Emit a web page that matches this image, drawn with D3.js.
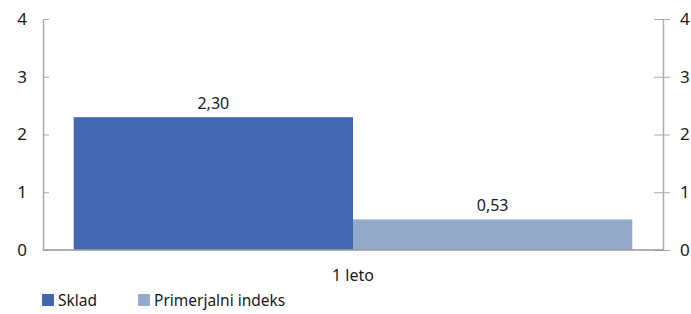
<!DOCTYPE html>
<html>
<head>
<meta charset="utf-8">
<script src="https://cdn.jsdelivr.net/npm/d3@7"></script>
<style>
  body { margin: 0; background: #fff; }
  text { font-family: "Noto Sans", sans-serif; fill: #1a1a1a; }
</style>
</head>
<body>
<svg id="chart" width="691" height="314"></svg>
<script>
'use strict';

const categories = ["1 leto"];
const seriesNames = ["Sklad", "Primerjalni indeks"];
const skladValues = [2.30];
const indeksValues = [0.53];
const yTicks = [0, 1, 2, 3, 4];

const COLORS = ["#4368b1", "#94aacb"];
const AXIS_COLOR = "#aaaaaa";
const fmt = (v) => v.toFixed(2).replace(".", ",");

const svg = d3.select("#chart");
const plot = { left: 43, right: 663, top: 19, bottom: 250 };

const x = d3.scaleBand()
    .domain(categories)
    .range([plot.left, plot.right])
    .paddingOuter(0.055)
    .paddingInner(0);

const xSeries = d3.scaleBand()
    .domain(seriesNames)
    .range([0, x.bandwidth()])
    .padding(0);

const y = d3.scaleLinear()
    .domain([0, 4])
    .range([plot.bottom, plot.top]);

// left axis
const leftAxis = svg.append("g")
    .attr("transform", `translate(${plot.left},0)`)
    .call(d3.axisLeft(y).tickValues(yTicks).tickFormat(d3.format("d"))
        .tickSize(6).tickSizeOuter(0).tickPadding(10));
leftAxis.selectAll(".tick line").attr("x2", 6);

// right axis
const rightAxis = svg.append("g")
    .attr("transform", `translate(${plot.right},0)`)
    .call(d3.axisRight(y).tickValues(yTicks).tickFormat(d3.format("d"))
        .tickSize(7).tickSizeOuter(0).tickPadding(10));
rightAxis.selectAll(".tick line").attr("x1", -9);

[leftAxis, rightAxis].forEach((g) => {
    g.select(".domain").attr("stroke", AXIS_COLOR).attr("stroke-width", 1.5);
    g.selectAll(".tick line").attr("stroke", AXIS_COLOR);
    g.selectAll(".tick text")
        .attr("font-size", 17)
        .style("font-family", '"Noto Sans", sans-serif')
        .attr("fill", "#1a1a1a");
});

// bars
const rows = categories.map((c, i) => ({
    category: c,
    values: [skladValues[i], indeksValues[i]]
}));

const groups = svg.selectAll("g.cat")
    .data(rows)
    .join("g")
    .classed("cat", true)
    .attr("transform", (d) => `translate(${x(d.category)},0)`);

groups.selectAll("rect")
    .data((d) => d.values.map((v, j) => ({ name: seriesNames[j], value: v, idx: j })))
    .join("rect")
    .attr("x", (d) => xSeries(d.name))
    .attr("width", xSeries.bandwidth())
    .attr("y", (d) => y(d.value))
    .attr("height", (d) => y(0) - y(d.value))
    .attr("fill", (d) => COLORS[d.idx]);

groups.selectAll("text.val")
    .data((d) => d.values.map((v, j) => ({ name: seriesNames[j], value: v })))
    .join("text")
    .classed("val", true)
    .attr("x", (d) => xSeries(d.name) + xSeries.bandwidth() / 2)
    .attr("y", (d) => y(d.value) - 8)
    .attr("text-anchor", "middle")
    .attr("font-size", 16)
    .text((d) => fmt(d.value));

// baseline
svg.append("line")
    .attr("x1", plot.left).attr("x2", plot.right)
    .attr("y1", y(0)).attr("y2", y(0))
    .attr("stroke", "#999999").attr("stroke-width", 1.5);

// category label
svg.selectAll("text.cat-label")
    .data(categories)
    .join("text")
    .classed("cat-label", true)
    .attr("x", (d) => x(d) + x.bandwidth() / 2)
    .attr("y", 281)
    .attr("text-anchor", "middle")
    .attr("font-size", 16)
    .text((d) => d);

// legend
const legendX = [42, 138];
const legend = svg.selectAll("g.legend")
    .data(seriesNames)
    .join("g")
    .classed("legend", true)
    .attr("transform", (d, i) => `translate(${legendX[i]},297)`);

legend.append("rect")
    .attr("x", 0).attr("y", -3)
    .attr("width", 12).attr("height", 12)
    .attr("fill", (d, i) => COLORS[i]);

legend.append("text")
    .attr("x", 16).attr("y", 9)
    .attr("font-size", 15.5)
    .text((d) => d);
</script>
</body>
</html>
